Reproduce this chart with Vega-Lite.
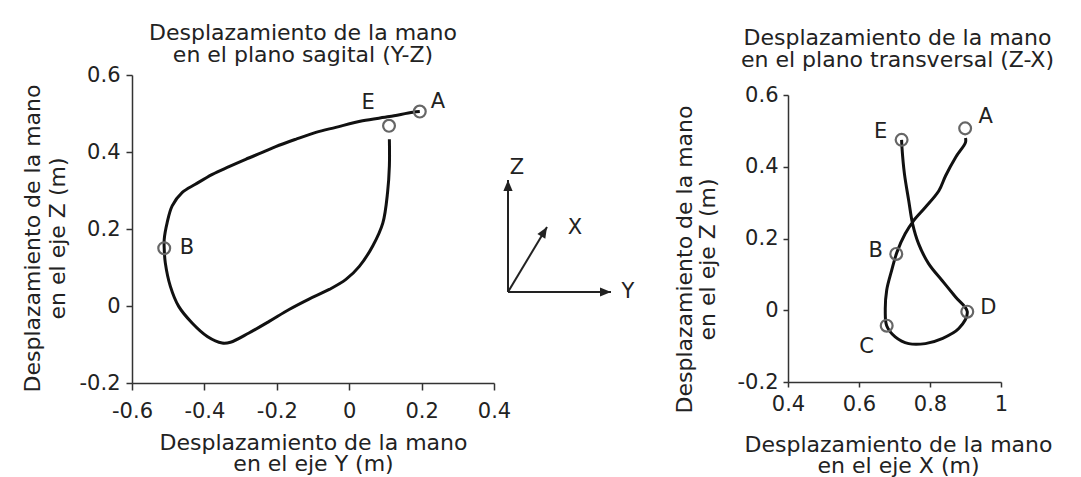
{
  "$schema": "https://vega.github.io/schema/vega-lite/v6.json",
  "background": "white",
  "padding": {"left": 20, "top": 22, "right": 5, "bottom": 5},
  "datasets": {
    "sagital": [
      {"i": 1, "y_m": 0.195, "z_m": 0.505},
      {"i": 2, "y_m": 0.176, "z_m": 0.503},
      {"i": 3, "y_m": 0.111, "z_m": 0.492},
      {"i": 4, "y_m": 0.037, "z_m": 0.481},
      {"i": 5, "y_m": -0.037, "z_m": 0.464},
      {"i": 6, "y_m": -0.092, "z_m": 0.451},
      {"i": 7, "y_m": -0.148, "z_m": 0.433},
      {"i": 8, "y_m": -0.203, "z_m": 0.414},
      {"i": 9, "y_m": -0.24, "z_m": 0.399},
      {"i": 10, "y_m": -0.286, "z_m": 0.381},
      {"i": 11, "y_m": -0.332, "z_m": 0.362},
      {"i": 12, "y_m": -0.378, "z_m": 0.342},
      {"i": 13, "y_m": -0.425, "z_m": 0.316},
      {"i": 14, "y_m": -0.461, "z_m": 0.295},
      {"i": 15, "y_m": -0.489, "z_m": 0.26},
      {"i": 16, "y_m": -0.503, "z_m": 0.216},
      {"i": 17, "y_m": -0.511, "z_m": 0.173},
      {"i": 18, "y_m": -0.511, "z_m": 0.149},
      {"i": 19, "y_m": -0.508, "z_m": 0.112},
      {"i": 20, "y_m": -0.494, "z_m": 0.051},
      {"i": 21, "y_m": -0.471, "z_m": -0.001},
      {"i": 22, "y_m": -0.434, "z_m": -0.044},
      {"i": 23, "y_m": -0.392, "z_m": -0.079},
      {"i": 24, "y_m": -0.351, "z_m": -0.096},
      {"i": 25, "y_m": -0.328, "z_m": -0.094},
      {"i": 26, "y_m": -0.277, "z_m": -0.07},
      {"i": 27, "y_m": -0.221, "z_m": -0.04},
      {"i": 28, "y_m": -0.166, "z_m": -0.009},
      {"i": 29, "y_m": -0.111, "z_m": 0.018},
      {"i": 30, "y_m": -0.055, "z_m": 0.043},
      {"i": 31, "y_m": -0.009, "z_m": 0.069},
      {"i": 32, "y_m": 0.028, "z_m": 0.103},
      {"i": 33, "y_m": 0.065, "z_m": 0.156},
      {"i": 34, "y_m": 0.093, "z_m": 0.216},
      {"i": 35, "y_m": 0.106, "z_m": 0.295},
      {"i": 36, "y_m": 0.111, "z_m": 0.364},
      {"i": 37, "y_m": 0.111, "z_m": 0.433}
    ],
    "sagitalPuntos": [
      {"punto": "A", "y_m": 0.195, "z_m": 0.505},
      {"punto": "B", "y_m": -0.511, "z_m": 0.15},
      {"punto": "E", "y_m": 0.11, "z_m": 0.468}
    ],
    "sagitalEtiquetas": [
      {"punto": "E", "y_m": 0.052, "z_m": 0.528},
      {"punto": "A", "y_m": 0.245, "z_m": 0.531},
      {"punto": "B", "y_m": -0.448, "z_m": 0.15}
    ],
    "transversal": [
      {"i": 1, "x_m": 0.9, "z_m": 0.48},
      {"i": 2, "x_m": 0.9, "z_m": 0.468},
      {"i": 3, "x_m": 0.872, "z_m": 0.426},
      {"i": 4, "x_m": 0.844, "z_m": 0.375},
      {"i": 5, "x_m": 0.825, "z_m": 0.333},
      {"i": 6, "x_m": 0.787, "z_m": 0.287},
      {"i": 7, "x_m": 0.754, "z_m": 0.25},
      {"i": 8, "x_m": 0.73, "z_m": 0.213},
      {"i": 9, "x_m": 0.707, "z_m": 0.162},
      {"i": 10, "x_m": 0.692, "z_m": 0.111},
      {"i": 11, "x_m": 0.678, "z_m": 0.056},
      {"i": 12, "x_m": 0.674, "z_m": 0.0},
      {"i": 13, "x_m": 0.678, "z_m": -0.043},
      {"i": 14, "x_m": 0.702, "z_m": -0.074},
      {"i": 15, "x_m": 0.74, "z_m": -0.093},
      {"i": 16, "x_m": 0.787, "z_m": -0.093},
      {"i": 17, "x_m": 0.834, "z_m": -0.079},
      {"i": 18, "x_m": 0.881, "z_m": -0.051},
      {"i": 19, "x_m": 0.905, "z_m": -0.004},
      {"i": 20, "x_m": 0.872, "z_m": 0.037},
      {"i": 21, "x_m": 0.834, "z_m": 0.083},
      {"i": 22, "x_m": 0.796, "z_m": 0.13},
      {"i": 23, "x_m": 0.768, "z_m": 0.185},
      {"i": 24, "x_m": 0.751, "z_m": 0.241},
      {"i": 25, "x_m": 0.74, "z_m": 0.306},
      {"i": 26, "x_m": 0.728, "z_m": 0.38},
      {"i": 27, "x_m": 0.721, "z_m": 0.454},
      {"i": 28, "x_m": 0.72, "z_m": 0.475}
    ],
    "transversalPuntos": [
      {"punto": "A", "x_m": 0.899, "z_m": 0.507},
      {"punto": "B", "x_m": 0.705, "z_m": 0.157},
      {"punto": "C", "x_m": 0.678, "z_m": -0.043},
      {"punto": "D", "x_m": 0.905, "z_m": -0.004},
      {"punto": "E", "x_m": 0.72, "z_m": 0.475}
    ],
    "transversalEtiquetas": [
      {"punto": "E", "x_m": 0.661, "z_m": 0.498},
      {"punto": "A", "x_m": 0.957, "z_m": 0.54},
      {"punto": "B", "x_m": 0.647, "z_m": 0.166},
      {"punto": "C", "x_m": 0.621, "z_m": -0.102},
      {"punto": "D", "x_m": 0.964, "z_m": 0.005}
    ],
    "ejes": [
      {"eje": "Z", "x0": 9, "y0": 91, "x1": 9, "y1": 203},
      {"eje": "X", "x0": 9, "y0": 91, "x1": 48, "y1": 156},
      {"eje": "Y", "x0": 9, "y0": 91, "x1": 112, "y1": 91}
    ],
    "ejesEtiquetas": [
      {"eje": "Z", "x": 18, "y": 215},
      {"eje": "X", "x": 76, "y": 155},
      {"eje": "Y", "x": 129, "y": 91}
    ]
  },
  "bounds": "flush",
  "spacing": 5,
  "hconcat": [
    {
      "width": 362,
      "height": 308,
      "title": {"text": ["Desplazamiento de la mano", "en el plano sagital (Y-Z)"], "offset": -3, "dx": -10, "lineHeight": 22},
      "layer": [
        {
          "data": {"name": "sagital"},
          "mark": {"type": "line", "interpolate": "catmull-rom", "color": "#111", "strokeWidth": 3},
          "encoding": {
            "x": {"field": "y_m", "type": "quantitative", "scale": {"domain": [-0.6, 0.4], "nice": false, "zero": false},
              "axis": {"values": [-0.6, -0.4, -0.2, 0, 0.2, 0.4], "labelExpr": "datum.value < 0 ? '-' + format(-datum.value, '.1~f') : format(datum.value, '.1~f')", "tickSize": 7, "labelPadding": 10,
                "title": ["Desplazamiento de la mano", "en el eje Y (m)"], "titleLineHeight": 21, "titleBaseline": "middle", "titleY": 59}},
            "y": {"field": "z_m", "type": "quantitative", "scale": {"domain": [-0.2, 0.6], "nice": false, "zero": false},
              "axis": {"values": [-0.2, 0, 0.2, 0.4, 0.6], "labelExpr": "datum.value < 0 ? '-' + format(-datum.value, '.1~f') : format(datum.value, '.1~f')", "tickSize": 6, "labelPadding": 6,
                "title": ["Desplazamiento de la mano", "en el eje Z (m)"], "titleLineHeight": 25, "titleBaseline": "middle", "titleX": -100, "titleY": 163}},
            "order": {"field": "i", "type": "quantitative"}
          }
        },
        {
          "data": {"name": "sagitalPuntos"},
          "mark": {"type": "point", "shape": "circle", "filled": false, "stroke": "#666", "strokeWidth": 2.2, "size": 140, "opacity": 1},
          "encoding": {"x": {"field": "y_m", "type": "quantitative"}, "y": {"field": "z_m", "type": "quantitative"}}
        },
        {
          "data": {"name": "sagitalEtiquetas"},
          "mark": {"type": "text", "fontSize": 21, "font": "DejaVu Sans", "color": "#222", "baseline": "middle", "align": "center"},
          "encoding": {"x": {"field": "y_m", "type": "quantitative"}, "y": {"field": "z_m", "type": "quantitative"}, "text": {"field": "punto"}}
        }
      ]
    },
    {
      "width": 284,
      "height": 308,
      "layer": [
        {
          "data": {"name": "ejes"},
          "mark": {"type": "rule", "color": "#222", "strokeWidth": 2},
          "encoding": {
            "x": {"field": "x0", "type": "quantitative", "scale": {"domain": [0, 284], "nice": false, "zero": false}, "axis": null},
            "y": {"field": "y0", "type": "quantitative", "scale": {"domain": [0, 308], "nice": false, "zero": false}, "axis": null},
            "x2": {"field": "x1"},
            "y2": {"field": "y1"}
          }
        },
        {
          "data": {"name": "ejes"},
          "transform": [{"filter": "datum.eje === 'Z'"}],
          "mark": {"type": "point", "shape": "M0,0L0.42,1L-0.42,1Z", "filled": true, "color": "#222", "size": 484, "angle": 0, "opacity": 1},
          "encoding": {"x": {"field": "x1", "type": "quantitative"}, "y": {"field": "y1", "type": "quantitative"}}
        },
        {
          "data": {"name": "ejes"},
          "transform": [{"filter": "datum.eje === 'X'"}],
          "mark": {"type": "point", "shape": "M0,0L0.42,1L-0.42,1Z", "filled": true, "color": "#222", "size": 484, "angle": 31, "opacity": 1},
          "encoding": {"x": {"field": "x1", "type": "quantitative"}, "y": {"field": "y1", "type": "quantitative"}}
        },
        {
          "data": {"name": "ejes"},
          "transform": [{"filter": "datum.eje === 'Y'"}],
          "mark": {"type": "point", "shape": "M0,0L0.42,1L-0.42,1Z", "filled": true, "color": "#222", "size": 484, "angle": 90, "opacity": 1},
          "encoding": {"x": {"field": "x1", "type": "quantitative"}, "y": {"field": "y1", "type": "quantitative"}}
        },
        {
          "data": {"name": "ejesEtiquetas"},
          "mark": {"type": "text", "fontSize": 21, "font": "DejaVu Sans", "color": "#222", "baseline": "middle", "align": "center"},
          "encoding": {"x": {"field": "x", "type": "quantitative"}, "y": {"field": "y", "type": "quantitative"}, "text": {"field": "eje"}}
        }
      ]
    },
    {
      "bounds": "flush",
      "spacing": 0,
      "vconcat": [
        {
          "width": 213,
          "height": 20,
          "data": {"values": []},
          "mark": "point"
        },
        {
          "width": 213,
          "height": 287,
          "title": {"text": ["Desplazamiento de la mano", "en el plano transversal (Z-X)"], "offset": 12, "dx": 3, "lineHeight": 22},
          "layer": [
            {
              "data": {"name": "transversal"},
              "mark": {"type": "line", "interpolate": "catmull-rom", "color": "#111", "strokeWidth": 3},
              "encoding": {
                "x": {"field": "x_m", "type": "quantitative", "scale": {"domain": [0.4, 1], "nice": false, "zero": false},
                  "axis": {"values": [0.4, 0.6, 0.8, 1], "labelExpr": "datum.value < 0 ? '-' + format(-datum.value, '.1~f') : format(datum.value, '.1~f')", "tickSize": 5, "labelPadding": 6,
                    "title": ["Desplazamiento de la mano", "en el eje X (m)"], "titleLineHeight": 21, "titleBaseline": "middle", "titleY": 62, "titleX": 110}},
                "y": {"field": "z_m", "type": "quantitative", "scale": {"domain": [-0.2, 0.6], "nice": false, "zero": false},
                  "axis": {"values": [-0.2, 0, 0.2, 0.4, 0.6], "labelExpr": "datum.value < 0 ? '-' + format(-datum.value, '.1~f') : format(datum.value, '.1~f')", "tickSize": 5, "labelPadding": 5,
                    "title": ["Desplazamiento de la mano", "en el eje Z (m)"], "titleLineHeight": 23, "titleBaseline": "middle", "titleX": -104, "titleY": 164}},
                "order": {"field": "i", "type": "quantitative"}
              }
            },
            {
              "data": {"name": "transversalPuntos"},
              "mark": {"type": "point", "shape": "circle", "filled": false, "stroke": "#666", "strokeWidth": 2.2, "size": 140, "opacity": 1},
              "encoding": {"x": {"field": "x_m", "type": "quantitative"}, "y": {"field": "z_m", "type": "quantitative"}}
            },
            {
              "data": {"name": "transversalEtiquetas"},
              "mark": {"type": "text", "fontSize": 21, "font": "DejaVu Sans", "color": "#222", "baseline": "middle", "align": "center"},
              "encoding": {"x": {"field": "x_m", "type": "quantitative"}, "y": {"field": "z_m", "type": "quantitative"}, "text": {"field": "punto"}}
            }
          ]
        }
      ]
    }
  ],
  "config": {
    "view": {"stroke": null},
    "font": "DejaVu Sans",
    "axis": {"grid": false, "domainColor": "#333", "tickColor": "#333", "labelColor": "#222", "titleColor": "#222", "labelFontSize": 21, "titleFontSize": 22, "titleFontWeight": "normal", "labelFont": "DejaVu Sans", "titleFont": "DejaVu Sans", "domainWidth": 1.5, "tickWidth": 1.5, "labelFlush": false, "labelOverlap": false},
    "title": {"fontSize": 22, "fontWeight": "normal", "font": "DejaVu Sans", "color": "#222"}
  }
}
